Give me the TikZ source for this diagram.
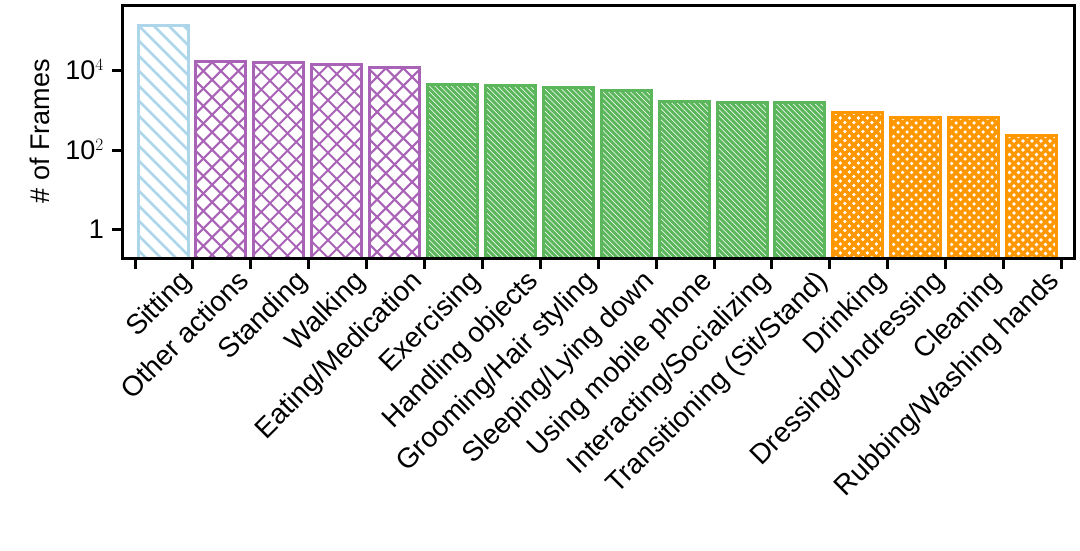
\documentclass[tikz,border=0pt]{standalone}
\usepackage{fontspec}
\setmainfont{Liberation Sans}
\definecolor{cblue}{RGB}{174,214,234}
\definecolor{cpurple}{RGB}{168,98,182}
\definecolor{cgreen}{RGB}{92,182,92}
\definecolor{corange}{RGB}{255,152,0}
\tikzset{axisline/.style={line width=3pt,black},
  lbl/.style={font=\fontsize{28}{28}\selectfont,rotate=45,anchor=north east,inner sep=0pt},
  ylbl/.style={font=\fontsize{27}{27}\selectfont,anchor=east,inner sep=0pt}}
% #1 bar index, #2 top y, #3 color, #4 spacing, #5 width, #6 cross (0/1)
\newcommand{\hatchbar}[6]{%
  \pgfmathsetmacro{\xa}{138+#1*57.9}\pgfmathsetmacro{\xb}{\xa+50}%
  \begin{scope}
  \clip (\xa,#2) rectangle (\xb,258);
  \foreach \k in {0,...,70}{\pgfmathsetmacro{\c}{-300+\k*#4}\draw[#3,line width=#5pt] (\xa+\c,#2)--++(400,400);}
  \ifnum#6=1
  \foreach \k in {0,...,70}{\pgfmathsetmacro{\c}{\k*#4}\draw[#3,line width=#5pt] (\xa+\c,#2)--++(-400,400);}
  \fi
  \end{scope}
  \draw[#3,line width=3pt] (\xa,258)--(\xa,#2)--(\xb,#2)--(\xb,258);}
\begin{document}
\begin{tikzpicture}[x=1pt,y=-1pt]
\useasboundingbox (0,0) rectangle (1080,550);
\hatchbar{0}{25}{cblue}{15}{2.5}{0}
\foreach \i/\t in {1/61,2/62,3/64,4/67}{\hatchbar{\i}{\t}{cpurple}{17.5}{2}{1}}
\foreach \i/\t in {5/84,6/85,7/87,8/90,9/101,10/102,11/102}{\hatchbar{\i}{\t}{cgreen}{5.5}{3}{0}}
\foreach \i/\t in {12/112,13/117,14/117,15/135}{\hatchbar{\i}{\t}{corange}{9}{3.5}{1}}
\draw[axisline] (122,5) rectangle (1074,258);
\foreach \y/\l in {70/{10$^4$},150/{10$^2$},229/1}{
  \draw[axisline] (122,\y)--(112,\y);
  \node[ylbl] (yt\y) at (104,\y) {\l};}
\node[font=\fontsize{27}{27}\selectfont,rotate=90] (yl) at (40,131) {\# of Frames};
\foreach \i in {0,...,16}{\draw[axisline] (135+\i*57.9,258)--++(0,11);}
\foreach \i/\n in {0/Sitting,1/Other actions,2/Standing,3/Walking,4/Eating\slash Medication,5/Exercising,6/Handling objects,7/Grooming\slash Hair styling,8/Sleeping\slash Lying down,9/Using mobile phone,10/Interacting\slash Socializing,11/Transitioning (Sit\slash Stand),12/Drinking,13/Dressing\slash Undressing,14/Cleaning,15/Rubbing\slash Washing hands}{
  \node[lbl] (l\i) at (178+\i*57.9,268) {\n};}
\end{tikzpicture}
\end{document}
